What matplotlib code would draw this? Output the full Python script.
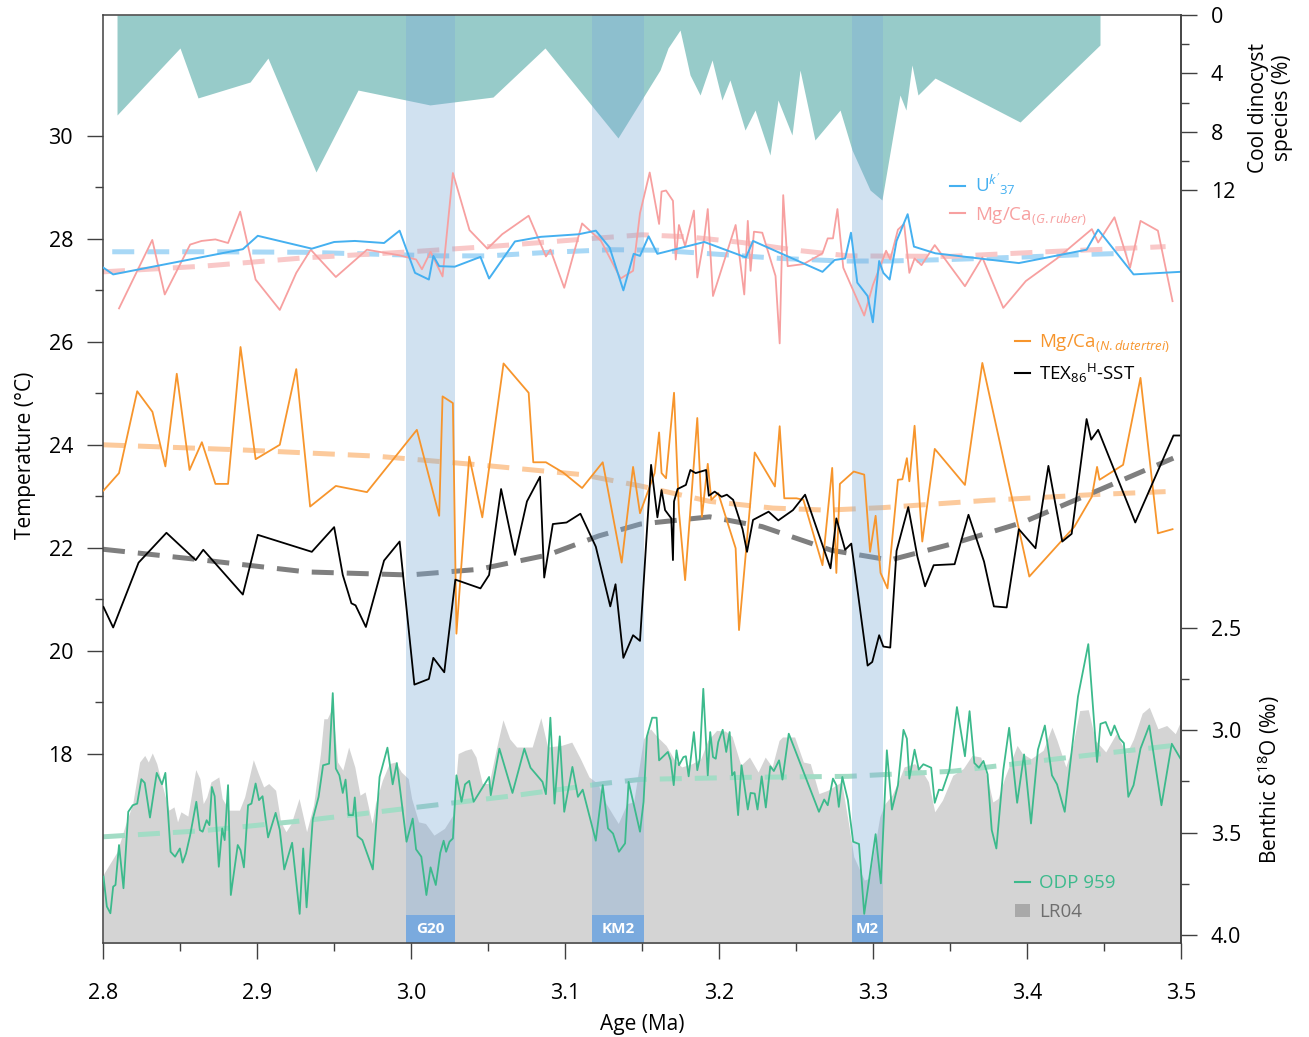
import numpy as np
import matplotlib.pyplot as plt
from matplotlib.lines import Line2D
from matplotlib.patches import Patch

plt.rcParams['font.family'] = ['Open Sans', 'DejaVu Sans']
plt.rcParams['mathtext.fontset'] = 'custom'
plt.rcParams['mathtext.rm'] = 'Open Sans'
plt.rcParams['mathtext.it'] = 'Open Sans:italic'
plt.rcParams['mathtext.bf'] = 'Open Sans:bold'

# --- data: (age Ma, value) ---
uk37 = [(2.8003, 27.44), (2.8066, 27.31), (2.8908, 27.80), (2.9005, 28.06), (2.9356, 27.81),
        (2.9501, 27.94), (2.9635, 27.96), (2.9825, 27.92), (2.9926, 28.16), (3.0026, 27.34),
        (3.0116, 27.21), (3.0145, 27.67), (3.0183, 27.47), (3.0284, 27.46), (3.0451, 27.65),
        (3.0507, 27.23), (3.0675, 27.95), (3.0843, 28.04), (3.1089, 28.09), (3.1200, 28.16),
        (3.1290, 27.83), (3.1379, 27.00), (3.1446, 27.71), (3.1487, 27.67), (3.1543, 28.05),
        (3.1600, 27.71), (3.1905, 27.94), (3.2175, 27.64), (3.2221, 27.96), (3.2672, 27.36),
        (3.2751, 27.59), (3.2819, 27.62), (3.2857, 28.12), (3.2898, 27.15), (3.2965, 26.89),
        (3.2999, 26.38), (3.3040, 27.57), (3.3067, 27.34), (3.3108, 27.21), (3.3153, 27.96),
        (3.3225, 28.48), (3.3266, 27.85), (3.3405, 27.72), (3.3947, 27.53), (3.4387, 27.79),
        (3.4462, 28.18), (3.4692, 27.31), (3.4997, 27.36)]

ruber = [(2.8104, 26.65), (2.8320, 27.98), (2.8401, 26.92), (2.8566, 27.89), (2.8640, 27.96),
         (2.8730, 27.99), (2.8812, 27.92), (2.8891, 28.53), (2.8991, 27.21), (2.9148, 26.62),
         (2.9255, 27.34), (2.9349, 27.79), (2.9512, 27.26), (2.9714, 27.79), (2.9926, 27.68),
         (3.0033, 27.60), (3.0071, 27.41), (3.0127, 27.75), (3.0205, 27.27), (3.0272, 29.28),
         (3.0380, 28.17), (3.0496, 27.81), (3.0592, 28.09), (3.0764, 28.45), (3.0876, 27.66),
         (3.0905, 27.79), (3.0995, 27.05), (3.1111, 28.30), (3.1234, 27.96), (3.1361, 27.23),
         (3.1442, 27.38), (3.1487, 28.50), (3.1550, 29.29), (3.1611, 28.29), (3.1627, 28.92),
         (3.1656, 28.94), (3.1701, 28.74), (3.1719, 27.60), (3.1740, 28.27), (3.1780, 27.86),
         (3.1837, 28.55), (3.1859, 27.25), (3.1905, 28.03), (3.1927, 28.58), (3.1961, 26.89),
         (3.2108, 28.27), (3.2164, 26.92), (3.2187, 28.35), (3.2205, 27.38), (3.2227, 28.14),
         (3.2281, 28.12), (3.2367, 27.28), (3.2394, 25.97), (3.2417, 28.85), (3.2446, 27.47),
         (3.2548, 27.51), (3.2672, 27.72), (3.2706, 28.01), (3.2740, 28.01), (3.2769, 28.58),
         (3.2807, 27.44), (3.2943, 26.51), (3.2999, 27.10), (3.3085, 27.77), (3.3112, 27.60),
         (3.3162, 28.18), (3.3202, 28.29), (3.3236, 27.34), (3.3270, 27.62), (3.3315, 27.49),
         (3.3401, 27.88), (3.3597, 27.08), (3.3710, 27.64), (3.3846, 26.66), (3.3992, 27.18),
         (3.4195, 27.62), (3.4421, 28.19), (3.4462, 27.93), (3.4568, 28.42), (3.4669, 27.44),
         (3.4737, 28.35), (3.4850, 28.16), (3.4945, 26.79)]

dutertrei = [(2.8003, 23.11), (2.8104, 23.45), (2.8222, 25.04), (2.8321, 24.64), (2.8405, 23.58),
             (2.8479, 25.38), (2.8562, 23.51), (2.8642, 24.05), (2.8730, 23.24), (2.8812, 23.24),
             (2.8893, 25.90), (2.8991, 23.72), (2.9148, 24.00), (2.9255, 25.47), (2.9345, 22.80),
             (2.9512, 23.20), (2.9714, 23.08), (3.0038, 24.29), (3.0183, 22.62), (3.0205, 24.94),
             (3.0272, 24.81), (3.0295, 20.33), (3.0378, 23.77), (3.0463, 22.59), (3.0601, 25.58),
             (3.0764, 25.01), (3.0794, 23.66), (3.0876, 23.66), (3.0988, 23.46), (3.1111, 23.16),
             (3.1245, 23.66), (3.1368, 21.71), (3.1442, 23.57), (3.1487, 22.67), (3.1582, 23.45),
             (3.1611, 24.24), (3.1627, 23.45), (3.1656, 23.35), (3.1708, 25.01), (3.1740, 22.70),
             (3.1780, 21.37), (3.1859, 24.52), (3.1889, 22.60), (3.1927, 23.63), (3.1950, 22.93),
             (3.1995, 23.06), (3.2108, 21.99), (3.2130, 20.40), (3.2232, 23.85), (3.2363, 23.19),
             (3.2394, 24.36), (3.2424, 22.96), (3.2503, 22.96), (3.2548, 22.93), (3.2672, 21.66),
             (3.2735, 23.55), (3.2762, 21.51), (3.2785, 23.24), (3.2875, 23.48), (3.2943, 23.42),
             (3.2981, 21.92), (3.3017, 22.62), (3.3049, 21.51), (3.3094, 21.21), (3.3162, 23.32),
             (3.3191, 23.33), (3.3220, 23.74), (3.3236, 23.29), (3.3270, 24.37), (3.3320, 22.12),
             (3.3401, 23.92), (3.3597, 23.22), (3.3710, 25.59), (3.4015, 21.44), (3.4308, 22.41),
             (3.4421, 22.99), (3.4455, 23.57), (3.4471, 23.32), (3.4624, 23.61), (3.4737, 25.30),
             (3.4850, 22.28), (3.4945, 22.36)]

tex86 = [(2.8003, 20.85), (2.8066, 20.45), (2.8231, 21.71), (2.8412, 22.29), (2.8602, 21.76),
         (2.8651, 21.96), (2.8908, 21.09), (2.9005, 22.25), (2.9356, 21.92), (2.9501, 22.40),
         (2.9557, 21.47), (2.9613, 20.92), (2.9640, 20.88), (2.9707, 20.46), (2.9825, 21.75),
         (2.9926, 22.12), (3.0022, 19.34), (3.0116, 19.45), (3.0145, 19.86), (3.0216, 19.58),
         (3.0288, 21.38), (3.0451, 21.21), (3.0507, 21.47), (3.0585, 23.14), (3.0675, 21.86),
         (3.0753, 22.90), (3.0838, 23.38), (3.0865, 21.42), (3.0921, 22.46), (3.1010, 22.49),
         (3.1100, 22.66), (3.1200, 22.02), (3.1294, 20.86), (3.1328, 21.29), (3.1379, 19.86),
         (3.1442, 20.30), (3.1487, 20.19), (3.1559, 23.61), (3.1600, 22.59), (3.1627, 23.12),
         (3.1650, 22.73), (3.1690, 22.57), (3.1701, 21.76), (3.1708, 22.90), (3.1731, 23.14),
         (3.1785, 23.22), (3.1814, 23.51), (3.1848, 23.45), (3.1916, 23.51), (3.1934, 23.01),
         (3.1972, 23.09), (3.2017, 22.99), (3.2051, 23.03), (3.2092, 22.93), (3.2153, 22.36),
         (3.2182, 21.92), (3.2221, 22.54), (3.2322, 22.70), (3.2385, 22.53), (3.2480, 22.73),
         (3.2559, 23.03), (3.2724, 21.60), (3.2762, 22.57), (3.2819, 21.96), (3.2859, 22.08),
         (3.2965, 19.71), (3.2995, 19.78), (3.3040, 20.30), (3.3067, 20.08), (3.3112, 20.06),
         (3.3153, 21.94), (3.3229, 22.79), (3.3288, 21.83), (3.3338, 21.25), (3.3394, 21.66),
         (3.3530, 21.68), (3.3620, 22.64), (3.3721, 21.73), (3.3785, 20.86), (3.3868, 20.84),
         (3.3947, 22.36), (3.4055, 21.99), (3.4139, 23.59), (3.4229, 22.12), (3.4290, 22.27),
         (3.4387, 24.50), (3.4417, 24.10), (3.4462, 24.29), (3.4703, 22.49), (3.4951, 24.18),
         (3.4997, 24.18)]

# smoothed trends
uk37_trend = [(2.806, 27.75), (2.87, 27.75), (2.93, 27.74), (2.98, 27.70), (3.02, 27.67),
              (3.05, 27.67), (3.09, 27.74), (3.13, 27.79), (3.16, 27.78), (3.20, 27.70),
              (3.24, 27.62), (3.28, 27.57), (3.31, 27.57), (3.35, 27.60), (3.40, 27.65),
              (3.44, 27.70), (3.465, 27.72)]
ruber_trend = [(2.80, 27.36), (2.865, 27.47), (2.93, 27.63), (3.00, 27.75), (3.055, 27.86),
               (3.11, 27.99), (3.15, 28.08), (3.18, 28.04), (3.215, 27.93), (3.25, 27.78),
               (3.284, 27.67), (3.35, 27.66), (3.42, 27.76), (3.49, 27.85)]
dutertrei_trend = [(2.80, 24.00), (2.89, 23.90), (2.977, 23.78), (3.044, 23.61), (3.111, 23.42),
                   (3.149, 23.20), (3.194, 22.90), (3.235, 22.77), (3.27, 22.73), (3.307, 22.78),
                   (3.374, 22.92), (3.442, 23.03), (3.49, 23.09)]
tex86_trend = [(2.80, 21.97), (2.865, 21.76), (2.932, 21.53), (2.999, 21.47), (3.044, 21.58),
               (3.089, 21.86), (3.122, 22.23), (3.149, 22.46), (3.194, 22.60), (3.228, 22.41),
               (3.273, 21.95), (3.311, 21.76), (3.352, 22.08), (3.397, 22.49), (3.442, 23.06),
               (3.495, 23.74)]

# benthic d18O (permil)
odp959 = [(2.8003, 3.714), (2.8025, 3.860), (2.8048, 3.893), (2.8066, 3.763), (2.8081, 3.755),
          (2.8104, 3.560), (2.8133, 3.771), (2.8164, 3.398), (2.8193, 3.366), (2.8222, 3.358),
          (2.8249, 3.239), (2.8271, 3.257), (2.8305, 3.426), (2.8349, 3.208), (2.8383, 3.264),
          (2.8405, 3.208), (2.8439, 3.593), (2.8468, 3.617), (2.8499, 3.577), (2.8517, 3.646),
          (2.8539, 3.601), (2.8566, 3.512), (2.8606, 3.349), (2.8629, 3.487), (2.8647, 3.495),
          (2.8673, 3.439), (2.8691, 3.463), (2.8707, 3.277), (2.8725, 3.322), (2.8752, 3.666),
          (2.8774, 3.479), (2.8790, 3.536), (2.8812, 3.268), (2.8830, 3.804), (2.8875, 3.560),
          (2.8893, 3.585), (2.8915, 3.669), (2.8942, 3.366), (2.8964, 3.358), (2.8991, 3.260),
          (2.9013, 3.341), (2.9036, 3.322), (2.9072, 3.523), (2.9121, 3.403), (2.9148, 3.487),
          (2.9177, 3.679), (2.9228, 3.549), (2.9277, 3.896), (2.9300, 3.577), (2.9322, 3.864),
          (2.9362, 3.435), (2.9400, 3.325), (2.9429, 3.171), (2.9468, 3.163), (2.9492, 2.819),
          (2.9512, 3.187), (2.9535, 3.220), (2.9557, 3.306), (2.9575, 3.241), (2.9595, 3.414),
          (2.9624, 3.414), (2.9635, 3.328), (2.9653, 3.517), (2.9684, 3.536), (2.9752, 3.679),
          (2.9796, 3.228), (2.9847, 3.085), (2.9881, 3.264), (2.9908, 3.160), (2.9971, 3.544),
          (3.0011, 3.431), (3.0033, 3.581), (3.0067, 3.617), (3.0100, 3.804), (3.0127, 3.669),
          (3.0161, 3.755), (3.0190, 3.598), (3.0212, 3.539), (3.0228, 3.593), (3.0250, 3.544),
          (3.0272, 3.528), (3.0295, 3.220), (3.0328, 3.349), (3.0351, 3.264), (3.0378, 3.247),
          (3.0407, 3.349), (3.0507, 3.228), (3.0518, 3.317), (3.0574, 3.090), (3.0659, 3.306),
          (3.0736, 3.090), (3.0776, 3.183), (3.0854, 3.252), (3.0876, 3.312), (3.0905, 2.939),
          (3.0932, 3.358), (3.0966, 3.030), (3.0995, 3.398), (3.1048, 3.179), (3.1084, 3.325),
          (3.1115, 3.290), (3.1200, 3.539), (3.1245, 3.268), (3.1279, 3.479), (3.1312, 3.504),
          (3.1350, 3.593), (3.1390, 3.552), (3.1413, 3.252), (3.1487, 3.495), (3.1510, 3.350),
          (3.1532, 3.030), (3.1566, 2.939), (3.1595, 2.939), (3.1611, 3.147), (3.1668, 3.106),
          (3.1686, 3.147), (3.1706, 3.268), (3.1724, 3.098), (3.1740, 3.171), (3.1769, 3.131),
          (3.1785, 3.127), (3.1803, 3.225), (3.1837, 3.009), (3.1859, 3.195), (3.1875, 3.139),
          (3.1898, 2.798), (3.1927, 3.220), (3.1943, 3.009), (3.1961, 3.131), (3.1979, 3.139),
          (3.1995, 3.058), (3.2024, 2.998), (3.2047, 3.106), (3.2069, 3.009), (3.2085, 3.220),
          (3.2101, 3.204), (3.2124, 3.414), (3.2146, 3.171), (3.2187, 3.387), (3.2205, 3.306),
          (3.2232, 3.309), (3.2250, 3.387), (3.2277, 3.225), (3.2304, 3.377), (3.2333, 3.176),
          (3.2356, 3.199), (3.2390, 3.147), (3.2412, 3.241), (3.2453, 3.017), (3.2649, 3.398),
          (3.2683, 3.338), (3.2706, 3.366), (3.2740, 3.236), (3.2762, 3.268), (3.2778, 3.374),
          (3.2801, 3.228), (3.2837, 3.341), (3.2871, 3.544), (3.2909, 3.555), (3.2943, 3.896),
          (3.3017, 3.507), (3.3051, 3.747), (3.3090, 3.098), (3.3123, 3.387), (3.3162, 3.268),
          (3.3198, 2.998), (3.3220, 3.041), (3.3236, 3.236), (3.3270, 3.095), (3.3297, 3.192),
          (3.3327, 3.166), (3.3378, 3.183), (3.3401, 3.354), (3.3428, 3.290), (3.3451, 3.293),
          (3.3496, 3.195), (3.3545, 2.887), (3.3597, 3.127), (3.3627, 2.907), (3.3658, 3.160),
          (3.3688, 3.183), (3.3717, 3.150), (3.3744, 3.215), (3.3771, 3.487), (3.3801, 3.577),
          (3.3846, 3.195), (3.3884, 2.988), (3.3936, 3.354), (3.3981, 3.118), (3.4026, 3.455),
          (3.4071, 3.095), (3.4116, 2.977), (3.4162, 3.220), (3.4195, 3.264), (3.4245, 3.398),
          (3.4331, 2.836), (3.4398, 2.580), (3.4455, 3.155), (3.4477, 2.969), (3.4511, 2.960),
          (3.4545, 3.025), (3.4568, 2.977), (3.4602, 3.041), (3.4629, 3.063), (3.4658, 3.325),
          (3.4692, 3.268), (3.4737, 3.090), (3.4794, 2.977), (3.4873, 3.366), (3.4940, 3.066),
          (3.4997, 3.139)]

lr04 = [(2.8000, 3.706), (2.8092, 3.593), (2.8148, 3.455), (2.8193, 3.358), (2.8238, 3.155),
        (2.8271, 3.123), (2.8294, 3.155), (2.8320, 3.111), (2.8349, 3.163), (2.8383, 3.264),
        (2.8428, 3.390), (2.8461, 3.374), (2.8484, 3.447), (2.8506, 3.398), (2.8551, 3.419),
        (2.8602, 3.192), (2.8629, 3.236), (2.8651, 3.358), (2.8674, 3.325), (2.8701, 3.252),
        (2.8752, 3.228), (2.8774, 3.333), (2.8819, 3.390), (2.8886, 3.390), (2.8920, 3.325),
        (2.8976, 3.144), (2.9009, 3.212), (2.9043, 3.277), (2.9076, 3.260), (2.9121, 3.293),
        (2.9154, 3.447), (2.9188, 3.495), (2.9222, 3.455), (2.9273, 3.333), (2.9322, 3.495),
        (2.9367, 3.366), (2.9412, 3.114), (2.9434, 2.944), (2.9456, 2.944), (2.9490, 2.888),
        (2.9523, 3.155), (2.9557, 3.195), (2.9595, 3.082), (2.9635, 3.179), (2.9669, 3.317),
        (2.9702, 3.301), (2.9747, 3.455), (2.9769, 3.358), (2.9814, 3.244), (2.9859, 3.163),
        (2.9899, 3.155), (2.9937, 3.204), (2.9982, 3.236), (3.0004, 3.333), (3.0049, 3.447),
        (3.0094, 3.455), (3.0149, 3.512), (3.0217, 3.479), (3.0272, 3.414), (3.0306, 3.114),
        (3.0351, 3.098), (3.0391, 3.090), (3.0422, 3.131), (3.0463, 3.260), (3.0507, 3.260),
        (3.0552, 3.098), (3.0597, 2.949), (3.0641, 3.042), (3.0686, 3.082), (3.0787, 3.082),
        (3.0843, 2.939), (3.0887, 3.082), (3.0977, 3.074), (3.1044, 3.058), (3.1100, 3.139),
        (3.1156, 3.228), (3.1212, 3.260), (3.1267, 3.358), (3.1312, 3.414), (3.1346, 3.455),
        (3.1402, 3.358), (3.1446, 3.350), (3.1510, 3.042), (3.1555, 2.993), (3.1600, 3.033),
        (3.1656, 3.074), (3.1713, 3.147), (3.1758, 3.179), (3.1826, 3.163), (3.1882, 3.139),
        (3.1927, 3.050), (3.1984, 3.001), (3.2040, 3.004), (3.2085, 3.030), (3.2142, 3.171),
        (3.2198, 3.131), (3.2254, 3.204), (3.2300, 3.131), (3.2345, 3.179), (3.2390, 3.050),
        (3.2412, 3.033), (3.2491, 3.033), (3.2548, 3.155), (3.2593, 3.163), (3.2649, 3.309),
        (3.2706, 3.293), (3.2796, 3.252), (3.2841, 3.455), (3.2875, 3.617), (3.2943, 3.731),
        (3.2977, 3.722), (3.3044, 3.422), (3.3078, 3.358), (3.3123, 3.317), (3.3168, 3.244),
        (3.3202, 3.179), (3.3270, 3.163), (3.3315, 3.195), (3.3360, 3.252), (3.3401, 3.398),
        (3.3451, 3.341), (3.3518, 3.220), (3.3586, 3.187), (3.3643, 3.123), (3.3699, 3.131),
        (3.3744, 3.236), (3.3778, 3.350), (3.3812, 3.333), (3.3857, 3.228), (3.3936, 3.074),
        (3.3970, 3.114), (3.4026, 3.139), (3.4105, 3.098), (3.4162, 2.985), (3.4195, 3.050),
        (3.4252, 3.179), (3.4297, 3.074), (3.4342, 2.904), (3.4398, 2.900), (3.4444, 3.050),
        (3.4511, 3.106), (3.4579, 3.017), (3.4647, 3.114), (3.4692, 3.042), (3.4748, 2.917),
        (3.4794, 2.888), (3.4850, 2.993), (3.4907, 2.977), (3.4963, 3.017), (3.5000, 2.952)]

odp959_trend = [(2.80, 3.52), (2.865, 3.49), (2.932, 3.44), (2.999, 3.38), (3.066, 3.32),
                (3.125, 3.26), (3.149, 3.24), (3.216, 3.23), (3.284, 3.225), (3.352, 3.20),
                (3.419, 3.14), (3.50, 3.07)]

# cool dinocyst species (%)
dinocyst = [(2.8091, 6.85), (2.8500, 2.26), (2.8617, 5.68), (2.8955, 4.59), (2.9071, 2.95),
            (2.9383, 10.75), (2.9656, 5.14), (3.0123, 6.16), (3.0532, 5.62), (3.0870, 2.26),
            (3.1344, 8.42), (3.1617, 3.77), (3.1669, 2.26), (3.1747, 1.03), (3.1812, 4.11),
            (3.1877, 5.48), (3.1955, 3.08), (3.2019, 5.82), (3.2071, 4.45), (3.2169, 7.88),
            (3.2234, 6.51), (3.2331, 9.59), (3.2383, 5.82), (3.2474, 8.22), (3.2526, 3.77),
            (3.2623, 8.56), (3.2786, 6.51), (3.2864, 9.25), (3.2981, 11.99), (3.3058, 12.67),
            (3.3130, 8.22), (3.3175, 5.48), (3.3214, 6.51), (3.3253, 3.42), (3.3292, 5.48),
            (3.3403, 4.32), (3.3955, 7.33), (3.4474, 2.05)]

# glacial stages
stage_names = ['G20', 'KM2', 'M2']
stage_start = [2.9968, 3.1177, 3.2864]
stage_end = [3.0286, 3.1513, 3.3067]

age_ticks = [2.8, 2.9, 3.0, 3.1, 3.2, 3.3, 3.4, 3.5]
age_minor = [2.85, 2.95, 3.05, 3.15, 3.25, 3.35, 3.45]
temp_ticks = [18, 20, 22, 24, 26, 28, 30]
temp_minor = [19, 21, 23, 25, 27, 29]
dino_ticks = [0, 4, 8, 12]
dino_minor = [2, 6, 10]
d18o_ticks = [2.5, 3.0, 3.5, 4.0]
d18o_minor = [2.75, 3.25, 3.75]

c_uk = '#45b0f0'
c_ruber = '#f7a0a0'
c_dut = '#f7952c'
c_tex = '#000000'
c_odp = '#3cba8c'
spine_c = '#404040'

fig = plt.figure(figsize=(13.09, 10.37), dpi=100)
ax = fig.add_axes([103 / 1309, 1 - 943 / 1037, 1078 / 1309, 928 / 1037])
ax_d = ax.twinx()
ax_o = ax.twinx()

ax.set_xlim(2.8, 3.5)
ax.set_ylim(14.32, 32.35)
ax_d.set_ylim(63.56, 0)
ax_o.set_ylim(4.038, -0.489)


def xy(pairs):
    a = np.array(pairs)
    return a[:, 0], a[:, 1]


# fills (drawn in main axes, scaled with the twin axes)
x, y = xy(dinocyst)
ax.fill_between(x, 0, y, color='#97cbc9', lw=0, transform=ax_d.transData, zorder=1)
x, y = xy(lr04)
ax.fill_between(x, y, 5, color='#d4d4d4', lw=0, transform=ax_o.transData, zorder=1)

# trend lines
dash = dict(lw=3.6, dashes=(4.4, 2.6), zorder=1.6, solid_capstyle='butt')
x, y = xy(uk37_trend)
ax.plot(x, y, color='#a8d8f6', **dash)
x, y = xy(ruber_trend)
ax.plot(x, y, color='#f9c8c8', **dash)
x, y = xy(dutertrei_trend)
ax.plot(x, y, color='#fcca9c', **dash)
x, y = xy(tex86_trend)
ax.plot(x, y, color='#7f7f7f', **dash)
x, y = xy(odp959_trend)
ax.plot(x, y, color='#a2dcc5', transform=ax_o.transData, **dash)

# glacial bands
for name, a, b in zip(stage_names, stage_start, stage_end):
    ax.axvspan(a, b, color='#7eacd8', alpha=0.36, lw=0, zorder=2)
    ax.axvspan(a, b, ymin=0, ymax=0.03, color='#7aaade', lw=0, zorder=2.5)
    ax.text((a + b) / 2, 0.015, name, transform=ax.get_xaxis_transform(), color='white',
            fontsize=11, fontweight='bold', ha='center', va='center', zorder=5)

# records
x, y = xy(ruber)
ax.plot(x, y, color=c_ruber, lw=1.3, zorder=3)
x, y = xy(uk37)
ax.plot(x, y, color=c_uk, lw=1.4, zorder=3.1)
x, y = xy(dutertrei)
ax.plot(x, y, color=c_dut, lw=1.3, zorder=3)
x, y = xy(tex86)
ax.plot(x, y, color=c_tex, lw=1.3, zorder=3.2)
x, y = xy(odp959)
ax.plot(x, y, color=c_odp, lw=1.3, zorder=3, transform=ax_o.transData)

# axes styling
ax.set_xticks(age_ticks)
ax.set_xticklabels([f'{t:.1f}' for t in age_ticks])
ax.set_xticks(age_minor, minor=True)
ax.set_yticks(temp_ticks)
ax.set_yticks(temp_minor, minor=True)
ax_d.set_yticks(dino_ticks)
ax_d.set_yticks(dino_minor, minor=True)
ax_o.set_yticks(d18o_ticks)
ax_o.set_yticklabels([f'{t:.1f}' for t in d18o_ticks])
ax_o.set_yticks(d18o_minor, minor=True)

for a in (ax, ax_d, ax_o):
    a.tick_params(which='major', direction='out', length=11.5, width=1.0, color=spine_c,
                  labelsize=15.5, pad=10)
    a.tick_params(which='minor', direction='out', length=5.8, width=1.0, color=spine_c)
    for s in a.spines.values():
        s.set_color(spine_c)
        s.set_linewidth(1.1)
ax.tick_params(axis='x', pad=17)
ax.spines['right'].set_visible(False)
for a in (ax_d, ax_o):
    for k in ('left', 'top', 'bottom'):
        a.spines[k].set_visible(False)

ax.set_xlabel('Age (Ma)', fontsize=15)
ax.xaxis.set_label_coords(0.5, -0.076)
ax.set_ylabel('Temperature (°C)', fontsize=15)
ax.yaxis.set_label_coords(-0.062, 0.526)
ax.text(1.083, 0.90, 'Cool dinocyst\nspecies (%)', rotation=90, ha='center', va='center',
        transform=ax.transAxes, fontsize=15, linespacing=1.15)
ax.text(1.081, 0.176, r'Benthic δ$^{18}$O (‰)', rotation=90, ha='center', va='center',
        transform=ax.transAxes, fontsize=15)

# legends
leg_kw = dict(loc='upper left', frameon=False, fontsize=13.5, handlelength=0.8,
              handletextpad=0.5, borderpad=0, borderaxespad=0)
leg1 = ax.legend([Line2D([], [], color=c_uk, lw=1.5), Line2D([], [], color=c_ruber, lw=1.5)],
                 [r"U$^{k'}$$_{37}$", r'Mg/Ca$_{(G.ruber)}$'], labelspacing=0.35,
                 bbox_to_anchor=(0.786, 0.831), labelcolor=[c_uk, c_ruber], **leg_kw)
ax.add_artist(leg1)
leg2 = ax.legend([Line2D([], [], color=c_dut, lw=1.5), Line2D([], [], color=c_tex, lw=1.5)],
                 [r'Mg/Ca$_{(N.dutertrei)}$', r'TEX$_{86}$$^{\mathrm{H}}$-SST'], labelspacing=0.4,
                 bbox_to_anchor=(0.846, 0.658), labelcolor=[c_dut, c_tex], **leg_kw)
ax.add_artist(leg2)
leg3 = ax.legend([Line2D([], [], color=c_odp, lw=1.5), Patch(color='#a9a9a9', lw=0)],
                 ['ODP 959', 'LR04'], labelspacing=0.55,
                 bbox_to_anchor=(0.846, 0.074), labelcolor=[c_odp, '#6e6e6e'], **leg_kw)
for lg in (leg1, leg2, leg3):
    lg.set_zorder(6)

fig.savefig('out.png', dpi=100)
